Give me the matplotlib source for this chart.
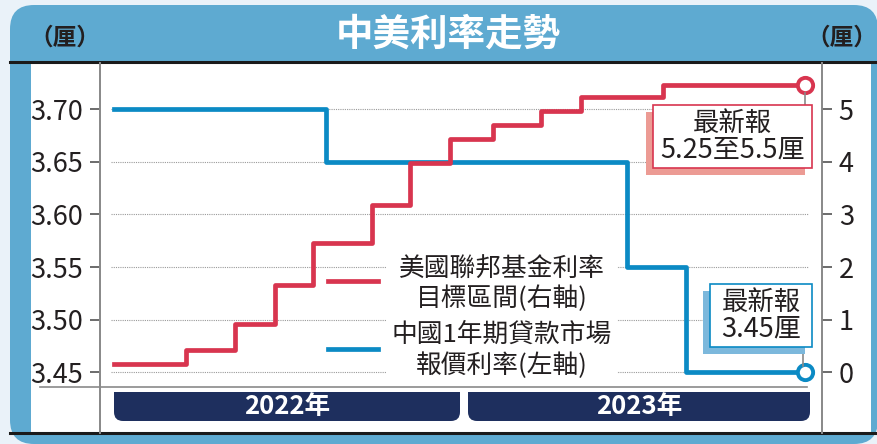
import matplotlib.pyplot as plt
from matplotlib.patches import FancyBboxPatch, Rectangle
from matplotlib.lines import Line2D

plt.rcParams['font.family'] = ['Liberation Sans Narrow', 'Noto Sans CJK TC', 'DejaVu Sans']

# data (x = position along the time band, 0 = Jan 2022 start, 100 = latest)
fed_x = [0, 10.4, 17.5, 23.3, 28.8, 37.3, 42.8, 48.6, 54.8, 61.8, 67.6, 79.4, 100]
fed_y = [0.16, 0.42, 0.91, 1.66, 2.45, 3.18, 3.97, 4.43, 4.70, 4.97, 5.23, 5.46, 5.46]
lpr_x = [0, 30.7, 74.2, 82.8, 100]
lpr_y = [3.70, 3.65, 3.55, 3.45, 3.45]

left_ticks = [3.45, 3.50, 3.55, 3.60, 3.65, 3.70]
right_ticks = [0, 1, 2, 3, 4, 5]
years = ['2022年', '2023年']

title = '中美利率走勢'
unit = '（厘）'
fed_label = ['美國聯邦基金利率', '目標區間(右軸)']
lpr_label = ['中國1年期貸款市場', '報價利率(左軸)']
fed_note = ['最新報', '5.25至5.5厘']
lpr_note = ['最新報', '3.45厘']

red = '#d8354f'
blue = '#0b8ac4'
navy = '#1e2f5e'
panel = '#5eaad1'
ink = '#231f20'
grey = '#8a8a8a'

W, H = 878, 444
fig = plt.figure(figsize=(W / 100, H / 100), dpi=100)
fig.patch.set_facecolor('#eaf2f9')
T = fig.dpi_scale_trans


def X(px):
    return px / 100


def Y(py):
    return (H - py) / 100


# background panel
fig.add_artist(FancyBboxPatch((X(10), Y(444)), X(868), Y(5) - Y(444),
                              boxstyle='round,pad=0,rounding_size=0.24',
                              fc=panel, ec='none', transform=T, zorder=-10))
fig.add_artist(Rectangle((X(31), Y(433)), X(840), Y(63) - Y(433),
                         fc='white', ec='none', transform=T, zorder=-9))
for py in (62, 433):
    fig.add_artist(Line2D([X(10), X(878)], [Y(py), Y(py)], color='#1a1a1a',
                          lw=2.2, transform=T, zorder=-8))

# axes
ax = fig.add_axes([100 / W, 11 / H, 722 / W, 370 / H])
ax.set_facecolor('none')
ax2 = ax.twinx()
for a in (ax, ax2):
    a.set_xlim(-2.03, 102.46)
    a.spines['top'].set_visible(False)
    a.spines['bottom'].set_visible(False)
    a.spines['left'].set_color(grey)
    a.spines['right'].set_color(grey)
    a.spines['left'].set_linewidth(1.3)
    a.spines['right'].set_linewidth(1.3)
    a.set_xticks([])
    a.tick_params(axis='y', direction='out', length=7, width=1.1, color='#444444',
                  labelsize=19.5, labelcolor=ink, pad=5)

ax.set_ylim(3.3925, 3.7437)
ax2.set_ylim(-1.15, 5.874)
ax.set_yticks(left_ticks, labels=[f'{v:.2f}' for v in left_ticks])
ax2.set_yticks(right_ticks, labels=[str(v) for v in right_ticks])

ax.hlines(left_ticks, -0.4, 100.4, colors='#9a9a9a', linestyles=(0, (1, 1)),
          lw=0.8, zorder=0.5)

ax.plot(lpr_x, lpr_y, drawstyle='steps-post', color=blue, lw=3.4, zorder=3)
ax.plot(lpr_x[-1], lpr_y[-1], 'o', mfc='white', mec=blue, ms=11, mew=2.8, zorder=5,
        clip_on=False)
ax2.plot(fed_x, fed_y, drawstyle='steps-post', color=red, lw=3.4, zorder=3)
ax2.plot(fed_x[-1], fed_y[-1], 'o', mfc='white', mec=red, ms=11, mew=2.8, zorder=5,
         clip_on=False)

# base line and year bands
fig.add_artist(Line2D([X(40), X(807)], [Y(387), Y(387)], color=grey, lw=1.2,
                      transform=T, zorder=2))
for (x0, x1), label in zip([(114, 460), (468, 810)], years):
    fig.add_artist(FancyBboxPatch((X(x0), Y(421)), X(x1 - x0), Y(392) - Y(421),
                                  boxstyle='round,pad=0,rounding_size=0.09',
                                  fc=navy, ec='none', transform=T, zorder=2))
    fig.add_artist(Rectangle((X(x0), Y(405)), X(x1 - x0), Y(392) - Y(405),
                             fc=navy, ec='none', transform=T, zorder=2))
    fig.text(X((x0 + x1) / 2), Y(406), label, transform=T, ha='center', va='center',
             color='white', fontsize=18.5, fontweight='bold', zorder=4)

# legend
fig.add_artist(Rectangle((X(386), Y(383)), X(231), Y(256) - Y(383),
                         fc='white', ec='none', transform=T, zorder=2.5))
fig.add_artist(Line2D([X(328), X(378)], [Y(281), Y(281)], color=red, lw=3.4,
                      transform=T, zorder=3))
fig.add_artist(Line2D([X(328), X(378)], [Y(349), Y(349)], color=blue, lw=3.4,
                      transform=T, zorder=3))
for py, txt in zip([270, 299, 335, 366], fed_label + lpr_label):
    fig.text(X(502), Y(py), txt, transform=T, ha='center', va='center',
             fontsize=18.5, color=ink, family='Noto Sans CJK TC', zorder=4)

# latest-value notes
notes = [((653, 105, 812, 168), red, '#ec9b94', fed_note, (805, 93, 105)),
         ((710, 284, 812, 347), blue, '#7cb8dc', lpr_note, (803, 347, 366))]
for (x0, y0, x1, y1), ec, shade, lines, (lx, la, lb) in notes:
    fig.add_artist(Line2D([X(lx), X(lx)], [Y(la), Y(lb)], color=grey, lw=1.2,
                          transform=T, zorder=2.6))
    fig.add_artist(Rectangle((X(x0 - 7), Y(y1 + 7)), X(x1 - x0), Y(y0) - Y(y1),
                             fc=shade, ec='none', transform=T, zorder=2.7))
    fig.add_artist(Rectangle((X(x0), Y(y1)), X(x1 - x0), Y(y0) - Y(y1),
                             fc='white', ec=ec, lw=1.2, transform=T, zorder=2.8))
    cx = (x0 + x1) / 2
    fig.text(X(cx), Y(y0 + 18), lines[0], transform=T, ha='center', va='center',
             fontsize=19, color=ink, family='Noto Sans CJK TC', zorder=4)
    fig.text(X(cx), Y(y0 + 45), lines[1], transform=T, ha='center', va='center',
             fontsize=19.5, color=ink, zorder=4)

# header
fig.text(X(448), Y(34), title, transform=T, ha='center', va='center', fontsize=27,
         fontweight='bold', color='white', family='Noto Sans CJK TC')
fig.text(X(65), Y(38), unit, transform=T, ha='center', va='center', fontsize=17,
         fontweight='bold', color=ink, family='Noto Sans CJK TC')
fig.text(X(842), Y(38), unit, transform=T, ha='center', va='center', fontsize=17,
         fontweight='bold', color=ink, family='Noto Sans CJK TC')

fig.savefig('out.png', dpi=100, facecolor=fig.get_facecolor())
